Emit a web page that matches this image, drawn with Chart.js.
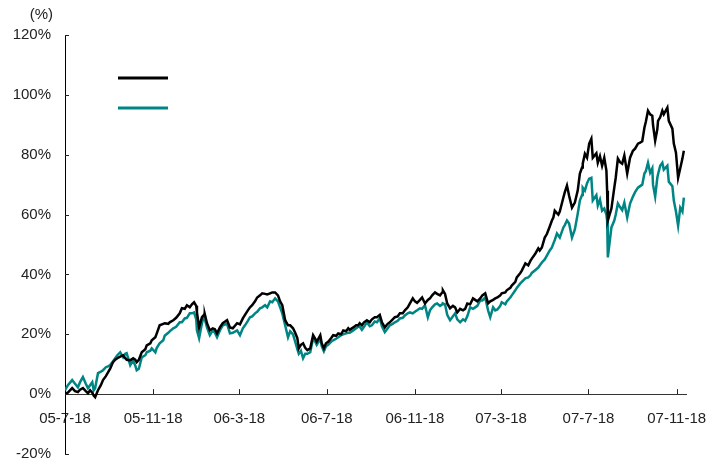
<!DOCTYPE html>
<html>
<head>
<meta charset="utf-8">
<script src="https://cdn.jsdelivr.net/npm/chart.js@4.4.1/dist/chart.umd.min.js"></script>
<style>
  body { margin: 0; background: #fff; }
  #wrap { width: 723px; height: 464px; }
</style>
</head>
<body>
<div id="wrap"><canvas id="myChart" width="723" height="464"></canvas></div>
<script>
// days since 2005-07-18
var days = [0,4,10,14,18,21,25,29,32,35,38,40,42,46,50,53,57,60,63,67,70,73,77,81,84,86,91,95,98,100,103,107,112,114,119,121,126,128,132,137,139,144,146,151,155,160,163,167,170,174,177,180,183,184,187,191,194,195,198,202,206,209,212,216,220,226,230,234,240,244,248,251,255,258,261,265,268,272,275,279,282,286,289,293,297,300,303,307,311,314,318,321,324,326,329,332,335,338,342,346,349,351,356,358,361,364,367,371,374,378,381,385,388,392,395,397,402,406,409,411,414,417,421,425,428,432,435,439,442,446,450,453,457,460,464,467,471,474,478,481,485,488,491,495,498,502,506,509,512,516,519,523,526,527,530,533,537,541,544,547,551,555,558,561,565,569,572,575,579,582,586,590,593,597,600,603,607,609,614,616,621,623,628,630,635,637,642,646,649,651,656,660,662,665,669,672,676,679,681,683,686,688,690,695,697,700,703,707,711,715,718,721,722,725,728,731,734,736,741,743,746,749,752,755,756,757,762,766,768,771,774,777,780,784,788,792,795,799,802,805,808,810,813,816,819,820,823,826,827,830,833,835,840,842,847,849,852,855,858,861,863];

// black line (%)
var blackSeries = [0.3,0.5,2.0,1.0,0.7,1.5,2.0,1.0,0.3,1.3,0.5,-0.5,-1.0,1.3,3.0,4.7,6.0,7.3,8.5,10.7,11.5,12.0,12.5,13.0,12.0,11.5,11.3,12.0,11.5,10.7,11.5,14.0,15.0,16.3,17.0,18.0,19.0,20.3,23.0,23.5,23.7,23.5,24.0,24.7,25.5,27.0,28.7,28.5,29.7,29.0,30.0,30.7,29.5,27.3,22.3,25.7,26.5,26.7,23.7,21.3,22.0,21.7,20.3,22.3,23.7,24.7,22.3,22.0,23.7,23.3,25.3,26.5,28.0,29.0,29.7,31.0,32.3,33.0,33.7,33.5,33.3,33.7,34.0,34.0,33.0,31.0,29.7,24.7,23.0,23.0,22.0,20.5,18.7,15.3,16.5,17.0,15.5,14.7,15.3,19.7,18.5,17.5,19.7,17.0,15.3,17.0,17.5,18.7,19.7,19.5,20.3,20.0,21.3,21.0,22.0,21.5,22.3,23.0,23.0,23.7,23.0,24.0,24.7,24.0,25.0,25.7,25.7,26.5,24.0,22.3,23.5,24.0,25.0,25.7,26.0,27.0,27.0,28.0,29.0,30.3,32.0,31.0,30.5,31.5,32.3,30.3,31.5,32.0,33.0,34.0,33.5,33.0,34.0,34.7,33.5,30.3,28.7,29.5,29.0,27.3,28.5,28.0,28.5,30.3,30.0,32.0,31.5,31.0,32.0,33.0,33.7,30.3,31.0,31.5,32.0,32.3,33.0,33.7,34.0,34.7,35.5,36.3,37.5,39.0,40.5,41.3,43.7,43.0,44.5,45.3,47.0,48.7,48.0,49.0,52.3,53.5,56.0,58.0,59.0,61.3,60.5,60.0,61.0,65.7,67.5,69.7,66.3,62.3,64.0,68.0,73.7,75.7,77.0,80.3,79.0,83.7,85.3,79.0,80.5,77.3,79.5,76.3,79.0,74.7,68.0,58.0,62.0,69.0,72.3,78.7,77.5,77.0,79.7,73.7,79.0,81.3,82.0,83.7,84.0,84.5,89.0,91.0,94.7,93.5,93.0,90.0,84.7,88.5,91.3,92.5,94.7,93.5,95.7,91.3,88.7,83.7,80.7,72.3,75.5,78.7,81.3];

// teal line (%)
var tealSeries = [1.3,3.0,4.7,3.5,2.3,4.0,5.7,3.5,2.0,3.0,4.0,1.3,2.0,7.0,7.5,8.0,9.0,9.3,9.7,11.0,12.0,13.0,14.0,12.3,13.5,13.7,9.7,11.3,9.5,8.0,8.5,12.3,13.0,14.0,14.5,15.3,14.0,15.5,17.0,18.0,19.5,20.5,21.0,22.0,22.5,24.0,24.0,25.3,25.5,27.0,27.0,27.3,25.0,21.3,18.7,23.7,26.3,25.0,22.3,19.7,21.3,20.5,19.0,21.3,23.0,23.5,20.3,20.5,21.3,19.7,22.0,23.0,24.5,25.7,26.0,27.0,27.5,28.7,29.0,29.7,29.0,31.0,30.7,32.0,31.0,29.0,27.0,23.0,19.0,21.0,20.0,17.5,15.0,13.5,14.5,12.0,13.5,13.5,14.0,18.7,17.5,16.5,18.5,16.0,14.3,16.0,16.5,17.5,18.0,18.5,19.0,19.7,20.0,20.3,20.5,20.5,21.3,22.0,22.5,22.5,21.5,22.5,24.0,22.7,23.0,24.3,24.0,25.3,22.7,20.7,22.0,23.0,23.5,24.0,24.5,25.3,25.5,26.3,27.0,27.3,27.0,27.5,28.0,28.7,28.5,29.7,25.7,28.0,29.0,30.0,30.3,29.5,30.0,30.3,30.0,26.5,24.7,26.0,27.0,25.0,24.0,25.0,24.5,26.0,29.0,28.5,29.0,29.5,31.3,31.3,32.3,28.0,25.7,29.0,28.0,28.3,29.5,30.7,30.0,31.0,32.3,33.0,34.7,35.5,37.0,37.5,38.7,39.0,39.7,40.5,41.5,42.3,43.0,44.0,45.0,46.3,48.0,49.0,50.3,51.5,53.7,53.0,52.3,55.7,56.5,58.0,57.0,52.3,55.0,60.3,64.7,66.5,69.0,68.0,70.5,72.0,72.3,64.7,66.5,63.0,65.0,61.3,62.0,60.0,58.0,45.7,55.7,58.0,60.0,63.7,62.5,61.5,64.0,59.0,63.7,66.0,67.5,69.0,69.5,70.0,73.7,74.5,77.3,74.0,75.5,70.0,66.0,72.3,73.5,76.3,77.3,75.0,76.3,71.0,69.5,64.7,61.0,56.3,62.3,61.0,65.7];

var tickDays = [0,123,243,365,488,608,730,853];
var tickLabels = ["05-7-18","05-11-18","06-3-18","06-7-18","06-11-18","07-3-18","07-7-18","07-11-18"];
var yTicks = [-20,0,20,40,60,80,100,120];

function toPoints(vals) {
  return vals.map(function(v, i) { return { x: days[i], y: v }; });
}

// tick marks pointing inward, legend lines and "(%)" unit
var extras = {
  id: "extras",
  afterDraw: function(chart) {
    var ctx = chart.ctx;
    var xs = chart.scales.x, ys = chart.scales.y;
    var y0 = ys.getPixelForValue(0);
    ctx.save();
    ctx.strokeStyle = "#222";
    ctx.lineWidth = 1;
    ctx.beginPath();
    yTicks.forEach(function(t) {
      var py = Math.round(ys.getPixelForValue(t)) + 0.5;
      ctx.moveTo(xs.left, py);
      ctx.lineTo(xs.left + 4, py);
    });
    tickDays.forEach(function(d, i) {
      if (i == 0) return;
      var px = Math.round(xs.getPixelForValue(d)) + 0.5;
      ctx.moveTo(px, y0);
      ctx.lineTo(px, y0 - 5);
    });
    ctx.stroke();

    // legend, lines only
    chart.data.datasets.forEach(function(ds, i) {
      ctx.strokeStyle = ds.borderColor;
      ctx.lineWidth = 3;
      ctx.beginPath();
      ctx.moveTo(118, 78 + i * 30);
      ctx.lineTo(168, 78 + i * 30);
      ctx.stroke();
    });

    ctx.fillStyle = "#222";
    ctx.font = "15px 'Liberation Sans'";
    ctx.textAlign = "right";
    ctx.textBaseline = "middle";
    ctx.fillText("(%)", 53, 15);
    ctx.restore();
  }
};

var ctx = document.getElementById("myChart").getContext("2d");
var myChart = new Chart(ctx, {
  type: "line",
  data: {
    datasets: [
      { label: "", data: toPoints(blackSeries), borderColor: "#000000", borderWidth: 2.5, pointRadius: 0, tension: 0 },
      { label: "", data: toPoints(tealSeries), borderColor: "#008585", borderWidth: 2.5, pointRadius: 0, tension: 0 }
    ]
  },
  options: {
    responsive: false,
    animation: false,
    layout: { padding: { left: 0, right: 37, top: 35, bottom: 10 } },
    plugins: { legend: { display: false }, tooltip: { enabled: false } },
    scales: {
      x: {
        type: "linear",
        position: { y: 0 },
        min: 0,
        max: 866,
        afterBuildTicks: function(scale) {
          scale.ticks = tickDays.map(function(d) { return { value: d }; });
        },
        ticks: {
          autoSkip: false,
          maxRotation: 0,
          padding: 16,
          color: "#222",
          font: { family: "Liberation Sans", size: 15 },
          callback: function(v) {
            var i = tickDays.indexOf(v);
            return i >= 0 ? tickLabels[i] : "";
          }
        },
        grid: { display: false, drawTicks: false },
        border: { display: true, color: "#333", width: 1 }
      },
      y: {
        min: -20,
        max: 120,
        afterFit: function(scale) {
          scale.width = 65;
          scale.paddingTop = 0;
          scale.paddingBottom = 0;
        },
        ticks: {
          stepSize: 20,
          padding: 14,
          color: "#222",
          font: { family: "Liberation Sans", size: 15 },
          callback: function(v) { return v + "%"; }
        },
        grid: { display: false, drawTicks: false },
        border: { display: true, color: "#000", width: 1 }
      }
    }
  },
  plugins: [extras]
});
</script>
</body>
</html>
